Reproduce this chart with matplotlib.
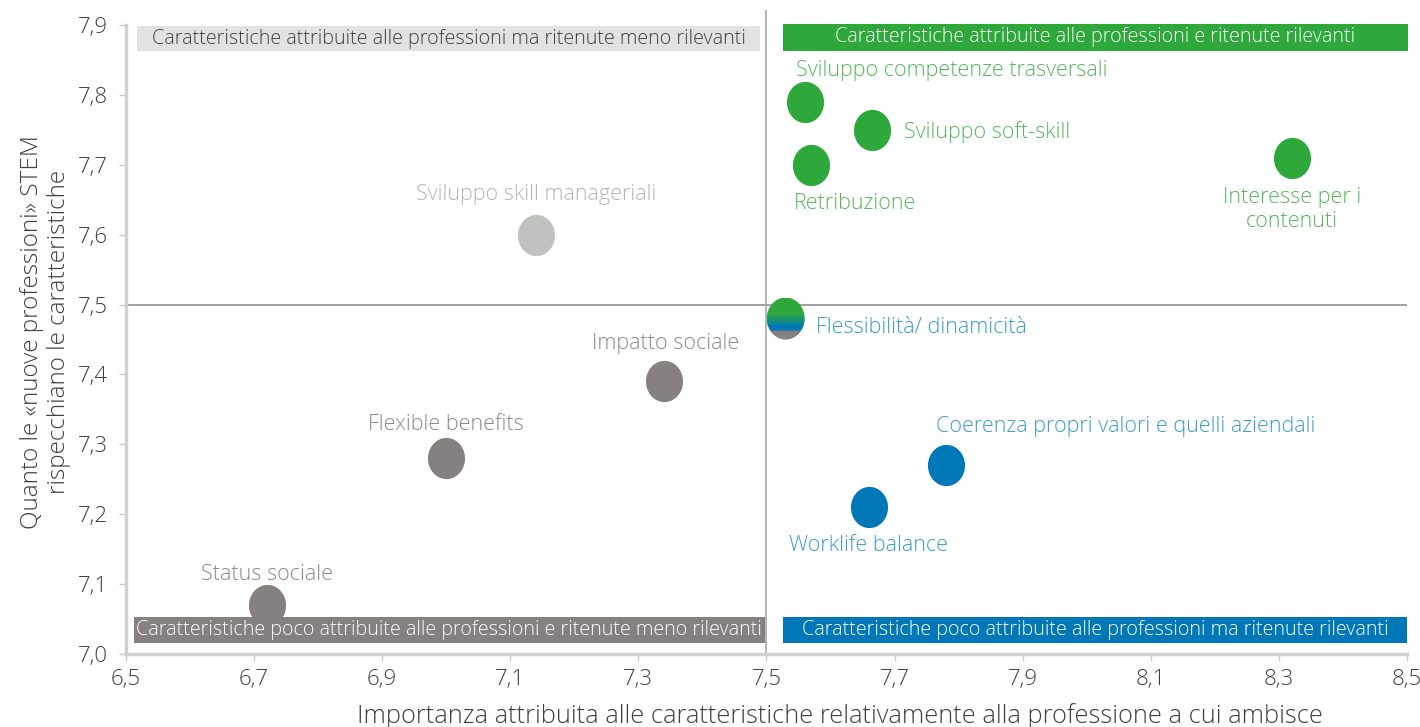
import numpy as np
import matplotlib.pyplot as plt
from matplotlib.path import Path
from matplotlib.patches import Rectangle, Ellipse
from matplotlib.colors import LinearSegmentedColormap
from matplotlib.ticker import FuncFormatter

plt.rcParams['font.family'] = ['Open Sans', 'DejaVu Sans']

# importance (x) vs. how well STEM jobs reflect the trait (y)
names = ["Sviluppo competenze trasversali", "Sviluppo soft-skill", "Retribuzione",
         "Interesse per i\ncontenuti", "Sviluppo skill manageriali", "Flessibilità/ dinamicità",
         "Impatto sociale", "Flexible benefits", "Status sociale",
         "Coerenza propri valori e quelli aziendali", "Worklife balance"]
importanza = [7.56, 7.665, 7.57, 8.32, 7.14, 7.53, 7.34, 7.00, 6.72, 7.78, 7.66]
rispecchiano = [7.79, 7.75, 7.70, 7.71, 7.60, 7.48, 7.39, 7.28, 7.07, 7.27, 7.21]
gruppo = ["verde", "verde", "verde", "verde", "chiaro", "misto",
          "grigio", "grigio", "grigio", "blu", "blu"]

xticks = [6.5, 6.7, 6.9, 7.1, 7.3, 7.5, 7.7, 7.9, 8.1, 8.3, 8.5]
yticks = [7.0, 7.1, 7.2, 7.3, 7.4, 7.5, 7.6, 7.7, 7.8, 7.9]
soglia_x, soglia_y = 7.5, 7.5

quadranti = ["Caratteristiche attribuite alle professioni ma ritenute meno rilevanti",
             "Caratteristiche attribuite alle professioni e ritenute rilevanti",
             "Caratteristiche poco attribuite alle professioni e ritenute meno rilevanti",
             "Caratteristiche poco attribuite alle professioni ma ritenute rilevanti"]

VERDE = "#2ea83a"
BLU = "#0077b6"
GRIGIO = "#878080"
CHIARO = "#c0c2c0"
col_punto = {"verde": VERDE, "blu": BLU, "grigio": GRIGIO, "chiaro": CHIARO, "misto": BLU}
col_testo = {"verde": "#55b95a", "blu": "#3c9ad0", "grigio": "#8a8a8a",
             "chiaro": "#b4b4b4", "misto": "#3c9ad0"}

# label offsets in pixels, plus alignment
etichette = [(-9, 31, "left"), (32, -2, "left"), (44, -39, "center"), (0, -52, "center"),
             (0, 40, "center"), (30, -9, "left"), (2, 38, "center"), (0, 34, "center"),
             (0, 31, "center"), (-10, 39, "left"), (0, -38, "center")]

fig = plt.figure(figsize=(14.2, 7.27), dpi=100)
ax = fig.add_axes([0.0887, 0.1004, 0.9021, 0.8652])
ax.set_xlim(6.5, 8.5)
ax.set_ylim(7.0, 7.9)

for s in ["top", "right"]:
    ax.spines[s].set_visible(False)
for s in ["left", "bottom"]:
    ax.spines[s].set_color("#d0d0d0")
    ax.spines[s].set_linewidth(2.5)

ax.set_xticks(xticks)
ax.set_yticks(yticks)
virgola = FuncFormatter(lambda v, p: f"{v:.1f}".replace(".", ","))
ax.xaxis.set_major_formatter(virgola)
ax.yaxis.set_major_formatter(virgola)
ax.tick_params(colors="#cbcbcb", labelcolor="#404040", labelsize=16, length=5, width=1)
ax.tick_params(axis="x", pad=6)
ax.tick_params(axis="y", pad=8)
for lab in ax.get_xticklabels() + ax.get_yticklabels():
    lab.set_fontweight("light")

ax.set_xlabel("Importanza attribuita alle caratteristiche relativamente alla professione a cui ambisce",
              fontsize=18.3, color="#404040", fontweight="light", va="center")
ax.xaxis.set_label_coords(0.557, -0.098)
ax.set_ylabel("Quanto le «nuove professioni» STEM\nrispecchiano le caratteristiche",
              fontsize=17.5, color="#404040", fontweight="light", va="center",
              linespacing=1.15)
ax.yaxis.set_label_coords(-0.063, 0.512)

# quadrant dividers
ax.axhline(soglia_y, color="#8f8f8f", lw=1.2, zorder=1)
ax.plot([soglia_x, soglia_x], [7.0, 7.92], color="#a8a8a8", lw=1.2, zorder=1, clip_on=False)

# slightly tall round blob used as marker
t = np.linspace(0, 2 * np.pi, 60)
blob = Path(np.column_stack([0.9 * np.cos(t), np.sin(t)]), closed=True)

for xv, yv, g in zip(importanza, rispecchiano, gruppo):
    if g == "misto":
        continue
    ax.scatter(xv, yv, s=880, marker=blob, color=col_punto[g], lw=0, zorder=3)

# three-colour marker for the point sitting on the divider
i = gruppo.index("misto")
cx, cy = importanza[i], rispecchiano[i]
px, py = ax.transData.transform((cx, cy))
rx, ry = 19, 21
(x0, y0), (x1, y1) = ax.transData.inverted().transform([(px - rx, py - ry), (px + rx, py + ry)])
grad = LinearSegmentedColormap.from_list("fl", [(0, VERDE), (0.38, VERDE), (0.68, BLU),
                                                (0.76, BLU), (0.8, GRIGIO), (1, GRIGIO)])
img = ax.imshow(np.linspace(0, 1, 100).reshape(-1, 1), cmap=grad, extent=[x0, x1, y0, y1],
                origin="upper", aspect="auto", zorder=3, interpolation="bilinear")
img.set_clip_path(Ellipse((cx, cy), x1 - x0, y1 - y0, transform=ax.transData))
ax.set_xlim(6.5, 8.5)
ax.set_ylim(7.0, 7.9)

for nm, xv, yv, g, (dx, dy, ha) in zip(names, importanza, rispecchiano, gruppo, etichette):
    ax.annotate(nm, (xv, yv), xytext=(dx, dy), textcoords="offset pixels",
                ha=ha, va="center", fontsize=15.5, color=col_testo[g],
                fontweight="light", linespacing=1.2, zorder=4)

# quadrant banners
banner = [((0.0086, 0.9587), 0.4864, 0.0397, "#e2e2e2", "#404040"),
          ((0.513, 0.9587), 0.4875, 0.0429, VERDE, "white"),
          ((0.006, 0.0175), 0.493, 0.0413, GRIGIO, "white"),
          ((0.513, 0.0175), 0.487, 0.0413, BLU, "white")]
for testo, (xy, w, h, fc, tc) in zip(quadranti, banner):
    ax.add_patch(Rectangle(xy, w, h, transform=ax.transAxes, fc=fc, ec="none",
                           zorder=5, clip_on=False))
    ax.text(xy[0] + w / 2, xy[1] + h / 2, testo, transform=ax.transAxes, ha="center",
            va="center", fontsize=14.2, color=tc, fontweight="light", zorder=6)

fig.savefig("out.png", dpi=100)
